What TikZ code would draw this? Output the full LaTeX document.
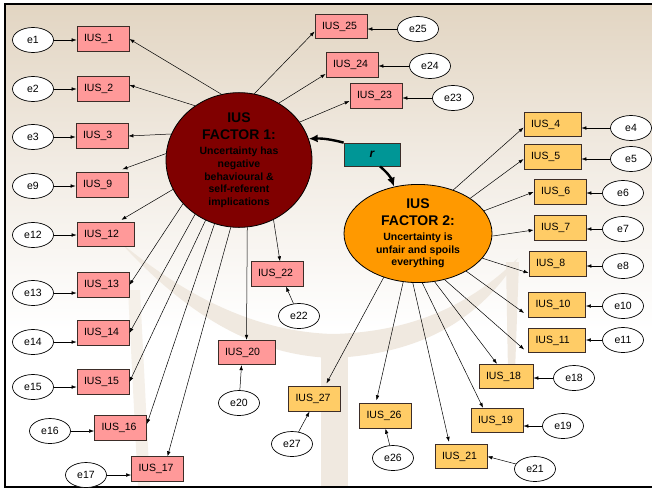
\documentclass[tikz,border=0pt]{standalone}
\usepackage{fontspec}
\setmainfont{Liberation Sans}
\usetikzlibrary{arrows.meta,calc,shapes.geometric}

\definecolor{pinkfill}{RGB}{255,153,153}
\definecolor{orangefill}{RGB}{255,204,102}
\definecolor{factorone}{RGB}{128,0,0}
\definecolor{factortwo}{RGB}{255,153,0}
\definecolor{tealbox}{RGB}{0,150,150}
\definecolor{bgtop}{RGB}{226,213,194}
\definecolor{bgmid}{RGB}{242,236,228}
\definecolor{watermark}{RGB}{240,233,224}
\definecolor{boxedge}{RGB}{60,45,40}

\newcommand\facbig{\fontsize{14}{16.5}\selectfont\bfseries}

\tikzset{
  indicator/.style={draw=boxedge, line width=0.8pt, minimum height=24.5pt,
    inner xsep=7pt, inner ysep=0pt, text width=38pt, align=left},
  pinkbox/.style={indicator, fill=pinkfill},
  orangebox/.style={indicator, fill=orangefill},
  wide/.style={text width=43pt},
  errterm/.style={draw=black, ellipse, fill=white, minimum width=41pt,
    minimum height=25pt, inner sep=0pt, line width=0.7pt},
  factor/.style={draw=black, ellipse, line width=0.8pt, inner sep=0pt, align=center,
    font=\fontsize{10.5}{12.7}\selectfont\bfseries},
  link/.style={line width=0.5pt, -{Latex[length=5pt,width=3.6pt]}},
  corr/.style={line width=2.4pt, -{Latex[length=9pt,width=8pt]}},
}

\begin{document}
\begin{tikzpicture}[x=1pt, y=-1pt, font=\fontsize{10.5}{12}\selectfont]
\useasboundingbox (0,0) rectangle (652,490);
\fill[white] (0,0) rectangle (652,490);

% slide background: tan gradient fading to white, with a faint watermark
\shade[top color=bgtop, bottom color=white, middle color=bgmid] (5,4) rectangle (652,330);
\fill[watermark] (120,242) .. controls (200,330) and (270,356) .. (333,358)
  .. controls (420,354) and (480,320) .. (518,258)
  .. controls (470,306) and (410,332) .. (333,334)
  .. controls (260,332) and (190,300) .. (120,242) -- cycle;
\fill[watermark] (321,345) rectangle (348,487);
\fill[watermark] (506,262) -- (519,262) -- (515,372) -- (508,372) -- cycle;
\fill[watermark!70!white] (128,290) -- (140,290) -- (150,487) -- (138,487) -- cycle;

% slide frame
\draw[line width=2.5pt] (652,4) -- (5,4) -- (5,487) -- (652,487);

% latent factors
\node[factor, fill=factorone, minimum width=146pt, minimum height=122pt] (f1) at (239,160)
  {\facbig IUS\\[4.3pt]\facbig FACTOR 1:\\[2.8pt]Uncertainty has\\negative\\
   behavioural \&\\self-referent\\implications};
\node[factor, fill=factortwo, minimum width=148pt, minimum height=94pt] (f2) at (418,233.5)
  {\facbig IUS\\[4.3pt]\facbig FACTOR 2:\\[2.3pt]Uncertainty is\\unfair and spoils\\
   everything};
\node[draw=boxedge, line width=0.8pt, fill=tealbox, minimum width=56pt, minimum height=23pt,
  inner sep=0pt, font=\fontsize{12}{14}\selectfont\bfseries\itshape] (r) at (372,154.5) {r};

% items loading on factor 1
\node[pinkbox] (b1) at (103,39) {IUS\_1};
\node[pinkbox] (b2) at (103,89) {IUS\_2};
\node[pinkbox] (b3) at (102,136) {IUS\_3};
\node[pinkbox] (b9) at (102,185) {IUS\_9};
\node[pinkbox, wide] (b12) at (105.5,234.5) {IUS\_12};
\node[pinkbox] (b13) at (103,285) {IUS\_13};
\node[pinkbox] (b14) at (103,333) {IUS\_14};
\node[pinkbox] (b15) at (103,382) {IUS\_15};
\node[pinkbox] (b16) at (120.5,428) {IUS\_16};
\node[pinkbox] (b17) at (157.5,469) {IUS\_17};
\node[pinkbox, wide] (b20) at (246.5,352.5) {IUS\_20};
\node[pinkbox] (b22) at (277,274) {IUS\_22};
\node[pinkbox] (b23) at (376,96) {IUS\_23};
\node[pinkbox] (b24) at (352,65) {IUS\_24};
\node[pinkbox] (b25) at (341,26.5) {IUS\_25};

% items loading on factor 2
\node[orangebox, wide] (b4) at (552.5,124.5) {IUS\_4};
\node[orangebox, wide] (b5) at (552.5,157) {IUS\_5};
\node[orangebox] (b6) at (560,192) {IUS\_6};
\node[orangebox] (b7) at (560,228) {IUS\_7};
\node[orangebox, wide] (b8) at (557.5,264) {IUS\_8};
\node[orangebox, wide] (b10) at (557,305) {IUS\_10};
\node[orangebox, wide] (b11) at (557,340.5) {IUS\_11};
\node[orangebox, text width=40pt] (b18) at (506,376.5) {IUS\_18};
\node[orangebox] (b19) at (497,420.5) {IUS\_19};
\node[orangebox] (b21) at (461,456.5) {IUS\_21};
\node[orangebox] (b26) at (385.5,416) {IUS\_26};
\node[orangebox] (b27) at (314.5,399) {IUS\_27};

% error terms
\node[errterm] (e1) at (33,40) {e1};
\node[errterm] (e2) at (33,89) {e2};
\node[errterm] (e3) at (33,137) {e3};
\node[errterm] (e9) at (33,186) {e9};
\node[errterm] (e12) at (33,235) {e12};
\node[errterm] (e13) at (33,293) {e13};
\node[errterm] (e14) at (33,342) {e14};
\node[errterm] (e15) at (33,387) {e15};
\node[errterm] (e16) at (50,431) {e16};
\node[errterm] (e17) at (86,475) {e17};
\node[errterm] (e20) at (239,403) {e20};
\node[errterm] (e22) at (299,316) {e22};
\node[errterm] (e27) at (292,444) {e27};
\node[errterm] (e25) at (418,29) {e25};
\node[errterm] (e24) at (430,66) {e24};
\node[errterm] (e23) at (453,98) {e23};
\node[errterm] (e4) at (631,128) {e4};
\node[errterm] (e5) at (631,159) {e5};
\node[errterm] (e6) at (623,193) {e6};
\node[errterm] (e7) at (623,229) {e7};
\node[errterm] (e8) at (623,266) {e8};
\node[errterm] (e10) at (623,306) {e10};
\node[errterm] (e11) at (623,340) {e11};
\node[errterm] (e18) at (574,378) {e18};
\node[errterm] (e19) at (563,426) {e19};
\node[errterm] (e21) at (535,469) {e21};
\node[errterm] (e26) at (393,458) {e26};

% factor 1 loadings
\draw[link] (f1.105) -- (b1.east);
\draw[link] (f1.129) -- ([yshift=4pt]b2.east);
\draw[link] (f1.159) -- (b3.east);
\draw[link] (f1.175) -- ([xshift=-6pt,yshift=3pt]b9.north east);
\draw[link] (f1.204) -- ([xshift=-13pt,yshift=2pt]b12.north east);
\draw[link] (f1.218) -- (b13.east);
\draw[link] (f1.231) -- (b14.east);
\draw[link] (f1.241) -- (b15.east);
\draw[link] (f1.249) -- ([yshift=4pt]b16.east);
\draw[link] (f1.263.5) -- ([xshift=10pt]b17.north);
\draw[link] (f1.277.6) -- (b20.north);
\draw[link] (f1.300) -- ([xshift=3pt]b22.north);
\draw[link] (f1.32) -- ([yshift=-5pt]b23.west);
\draw[link] (f1.55) -- ([yshift=-9pt]b24.west);
\draw[link] (f1.77) -- ([yshift=-5pt]b25.west);

% factor 2 loadings
\draw[link] (f2.51) -- ([yshift=-3pt]b4.west);
\draw[link] (f2.34.5) -- ([yshift=-2pt]b5.west);
\draw[link] (f2.19) -- (b6.west);
\draw[link] (f2.-2) -- ([yshift=-2pt]b7.west);
\draw[link] (f2.-21) -- ([yshift=-9pt]b8.west);
\draw[link] (f2.-38.5) -- ([xshift=-4pt,yshift=-8pt]b10.west);
\draw[link] (f2.-60) -- ([xshift=-4pt,yshift=-9pt]b11.west);
\draw[link] (f2.-71) -- ([xshift=-9pt]b18.north);
\draw[link] (f2.-85.6) -- ([xshift=-14pt]b19.north);
\draw[link] (f2.-96.7) -- ([xshift=-12pt,yshift=2pt]b21.north);
\draw[link] (f2.-107.7) -- ([xshift=-9pt,yshift=3pt]b26.north);
\draw[link] (f2.-128) -- ([xshift=12pt,yshift=3pt]b27.north);

% error paths
\foreach \e/\b in {e1/b1, e2/b2, e3/b3, e9/b9, e12/b12, e13/b13, e14/b14, e15/b15, e16/b16, e17/b17}
  \draw[link] (\e.east) -- (\e.east -| \b.west);
\foreach \e/\b in {e25/b25, e24/b24, e23/b23, e4/b4, e5/b5, e6/b6, e7/b7, e8/b8, e10/b10, e11/b11, e18/b18, e19/b19}
  \draw[link] (\e.west) -- (\e.west -| \b.east);
\draw[link] (e20) -- ([xshift=-5pt]b20.south);
\draw[link] (e22) -- ([xshift=9pt]b22.south);
\draw[link] (e27) -- ([xshift=-5pt]b27.south);
\draw[link] (e26) -- (b26.south);
\draw[link] (e21) -- (b21.east);

% factor correlation
\draw[corr] (r.north west) to[bend right=8] (f1.17);
\draw[corr] ([xshift=8pt]r.south) to[bend left=15] (f2.117);
\end{tikzpicture}
\end{document}
